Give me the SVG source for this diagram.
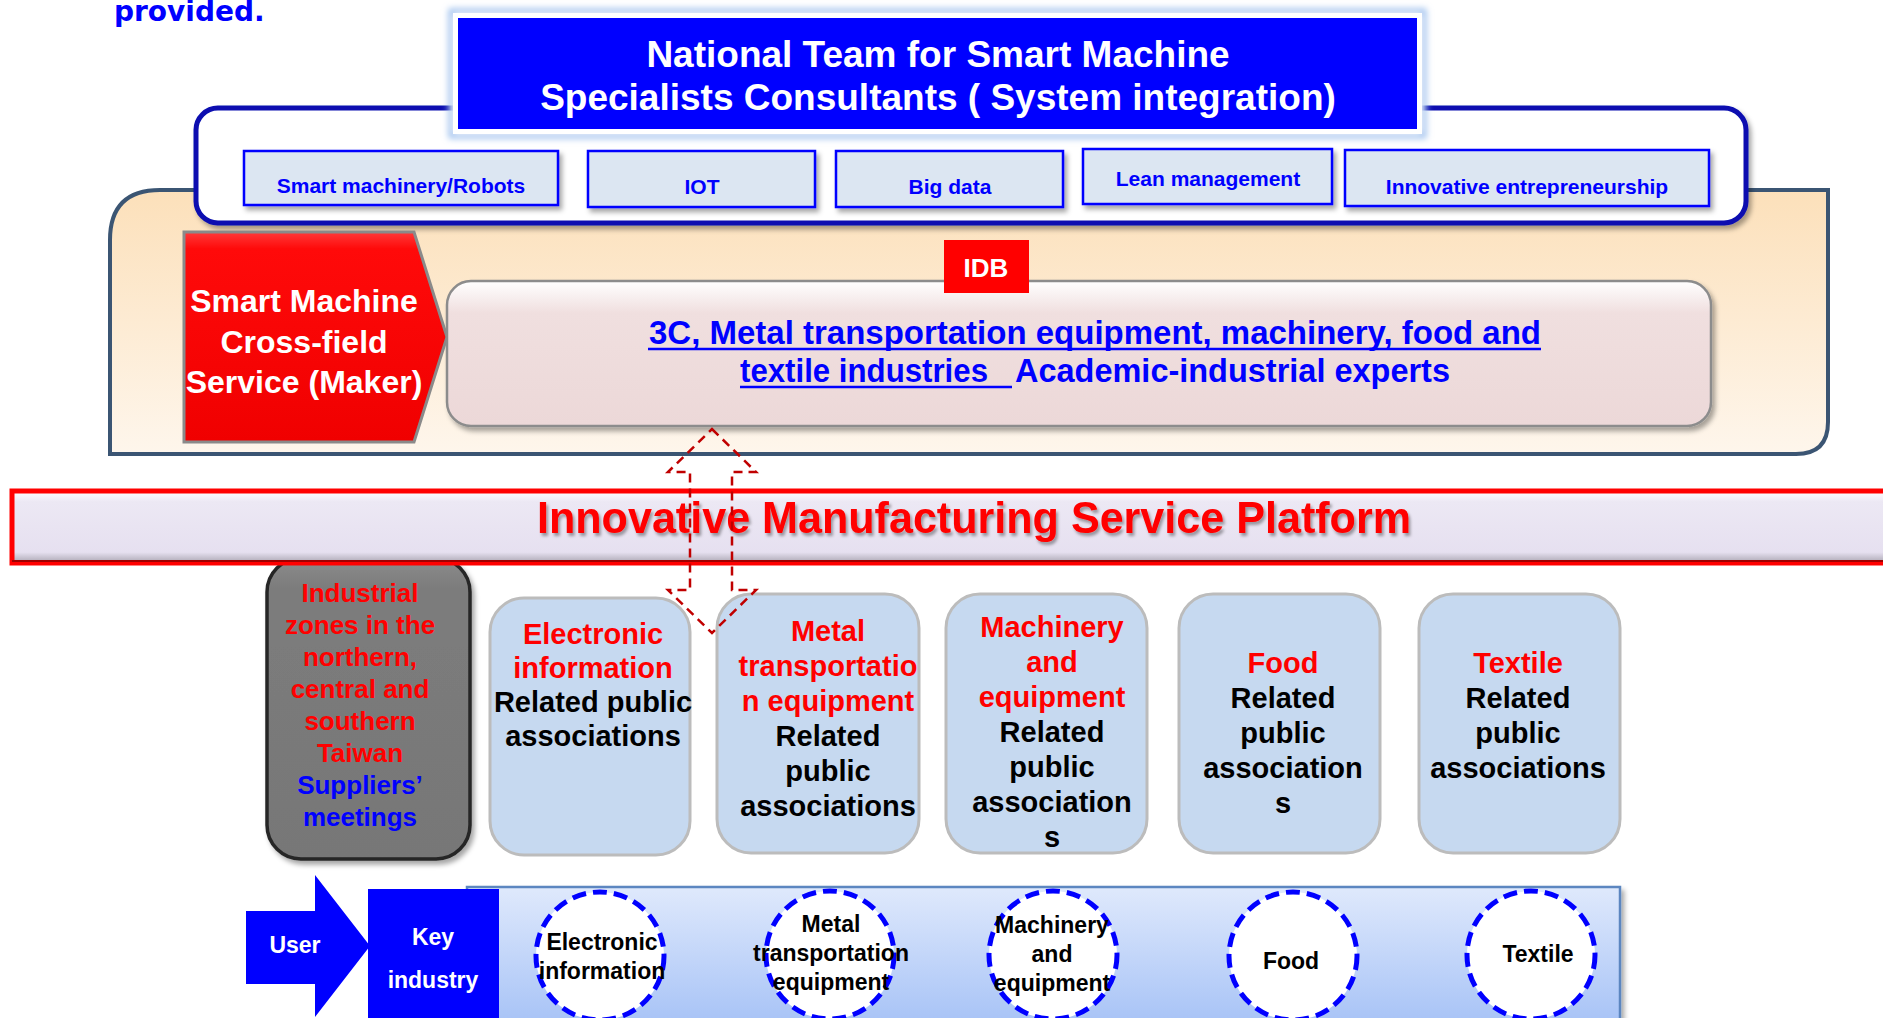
<svg xmlns="http://www.w3.org/2000/svg" width="1883" height="1018" viewBox="0 0 1883 1018">
<defs>
<style>
text{font-family:"Liberation Sans",Arial,sans-serif;font-weight:bold;text-anchor:middle}
.w{fill:#ffffff}
.b{fill:#0000ff}
.r{fill:#ff0000}
.k{fill:#000000}
.tag{fill:#dce6f2;stroke:#0000ff;stroke-width:2.5}
.ind{fill:#c6d9f0;stroke:#bcbcbc;stroke-width:3}
.circ{fill:#ffffff;stroke:#0000ff;stroke-width:5;stroke-dasharray:14 7}
.dash{fill:none;stroke:#c00000;stroke-width:2.5;stroke-dasharray:9 6}
</style>
<filter id="sh" x="-10%" y="-10%" width="130%" height="140%"><feDropShadow dx="3" dy="4" stdDeviation="2.5" flood-color="#000" flood-opacity="0.35"/></filter>
<filter id="glow" x="-5%" y="-20%" width="110%" height="140%"><feGaussianBlur stdDeviation="3"/></filter>
<filter id="tsh" x="-5%" y="-20%" width="110%" height="150%"><feDropShadow dx="2" dy="3" stdDeviation="1.5" flood-color="#000" flood-opacity="0.35"/></filter>
<linearGradient id="beige" x1="0" y1="0" x2="0" y2="1"><stop offset="0" stop-color="#fce0ba"/><stop offset="1" stop-color="#fef6ec"/></linearGradient>
<linearGradient id="pink" x1="0" y1="0" x2="0" y2="1"><stop offset="0" stop-color="#ffffff"/><stop offset="0.22" stop-color="#f0dfdf"/><stop offset="1" stop-color="#ecd8d8"/></linearGradient>
<linearGradient id="lav" x1="0" y1="0" x2="0" y2="1"><stop offset="0" stop-color="#ffffff"/><stop offset="0.15" stop-color="#ece8f4"/><stop offset="0.85" stop-color="#e6e0f0"/><stop offset="1" stop-color="#a9a4b0"/></linearGradient>
<linearGradient id="grey" x1="0" y1="0" x2="0" y2="1"><stop offset="0" stop-color="#8c8c8c"/><stop offset="0.1" stop-color="#7c7c7c"/><stop offset="1" stop-color="#777777"/></linearGradient>
<linearGradient id="strip" x1="0" y1="0" x2="0" y2="1"><stop offset="0" stop-color="#dfe9fc"/><stop offset="1" stop-color="#a6c2f6"/></linearGradient>
<linearGradient id="red" x1="0" y1="0" x2="0" y2="1"><stop offset="0" stop-color="#ff3a3a"/><stop offset="0.08" stop-color="#ff0a0a"/><stop offset="1" stop-color="#f00000"/></linearGradient>
</defs>

<text class="b" x="114" y="21" style="text-anchor:start;font-family:'DejaVu Sans',sans-serif;font-size:28px">provided.</text>

<g id="outer-panel">
<path d="M110,454 L110,240 Q110,190 160,190 L1828,190 L1828,422 Q1828,454 1796,454 Z" fill="url(#beige)" stroke="#3b5573" stroke-width="4"/>
</g>

<g id="expert-panel">
<rect x="196" y="108" width="1550" height="115" rx="22" fill="#ffffff" stroke="#0a0fb0" stroke-width="5" filter="url(#sh)"/>
</g>

<g id="national-team">
<rect x="451" y="11" width="973" height="125" fill="#ffffff" stroke="#9cc0ee" stroke-width="5" filter="url(#glow)"/>
<rect x="453" y="13" width="969" height="121" fill="#ffffff"/>
<rect x="458" y="18" width="959" height="111" fill="#0000ff"/>
<text class="w" x="938" y="67" style="font-size:37px">National Team for Smart Machine</text>
<text class="w" x="938" y="110" style="font-size:37px">Specialists Consultants ( System integration)</text>
</g>

<g id="tag-robots"><rect class="tag" x="244" y="151" width="314" height="54" filter="url(#sh)"/><text class="b" x="401" y="193" style="font-size:21px">Smart machinery/Robots</text></g>
<g id="tag-iot"><rect class="tag" x="588" y="151" width="227" height="56" filter="url(#sh)"/><text class="b" x="702" y="194" style="font-size:21px">IOT</text></g>
<g id="tag-bigdata"><rect class="tag" x="836" y="151" width="227" height="56" filter="url(#sh)"/><text class="b" x="950" y="194" style="font-size:21px">Big data</text></g>
<g id="tag-lean"><rect class="tag" x="1083" y="149" width="249" height="55" filter="url(#sh)"/><text class="b" x="1208" y="186" style="font-size:21px">Lean  management</text></g>
<g id="tag-innov"><rect class="tag" x="1345" y="150" width="364" height="56" filter="url(#sh)"/><text class="b" x="1527" y="194" style="font-size:21px">Innovative entrepreneurship</text></g>

<g id="maker">
<polygon points="184,232 414,232 447,337 414,442 184,442" fill="url(#red)" stroke="#8a8a8a" stroke-width="3"/>
<text class="w" x="304" y="312" style="font-size:32px">Smart Machine</text>
<text class="w" x="304" y="353" style="font-size:32px">Cross-field</text>
<text class="w" x="304" y="393" style="font-size:32px">Service (Maker)</text>
</g>

<g id="experts">
<rect x="447" y="281" width="1264" height="145" rx="24" fill="url(#pink)" stroke="#8c8c8c" stroke-width="2.5" filter="url(#sh)"/>
<text class="b" x="1095" y="344" textLength="892" lengthAdjust="spacingAndGlyphs" style="font-size:33px">3C, Metal transportation equipment, machinery, food and</text>
<line x1="648" y1="349" x2="1541" y2="349" stroke="#0000ff" stroke-width="2.5"/>
<text class="b" x="740" y="382" textLength="248" lengthAdjust="spacingAndGlyphs" style="font-size:33px;text-anchor:start">textile industries</text>
<line x1="740" y1="387" x2="1012" y2="387" stroke="#0000ff" stroke-width="2.5"/>
<text class="b" x="1015" y="382" textLength="435" lengthAdjust="spacingAndGlyphs" style="font-size:33px;text-anchor:start">Academic-industrial experts</text>
</g>

<g id="idb">
<rect x="944" y="240" width="85" height="53" fill="#ff0000"/>
<text class="w" x="986" y="277" style="font-size:26px">IDB</text>
</g>

<g id="zones">
<rect x="267" y="558" width="203" height="301" rx="34" fill="url(#grey)" stroke="#262626" stroke-width="3.5" filter="url(#sh)"/>
<text class="r" x="360" y="602" style="font-size:26px">Industrial</text>
<text class="r" x="360" y="634" style="font-size:26px">zones in the</text>
<text class="r" x="360" y="666" style="font-size:26px">northern,</text>
<text class="r" x="360" y="698" style="font-size:26px">central and</text>
<text class="r" x="360" y="730" style="font-size:26px">southern</text>
<text class="r" x="360" y="762" style="font-size:26px">Taiwan</text>
<text class="b" x="360" y="794" style="font-size:26px">Suppliers’</text>
<text class="b" x="360" y="826" style="font-size:26px">meetings</text>
</g>

<g id="platform">
<rect x="12" y="491" width="1880" height="72" fill="url(#lav)" stroke="#ff0000" stroke-width="5"/>
<line x1="12" y1="561" x2="1892" y2="561" stroke="#a00000" stroke-width="2"/>
<text class="r" x="974" y="533" textLength="874" lengthAdjust="spacingAndGlyphs" filter="url(#tsh)" style="font-size:44px">Innovative Manufacturing Service Platform</text>
</g>

<g id="assoc-electronic">
<rect class="ind" x="490" y="598" width="200" height="257" rx="34"/>
<text class="r" x="593" y="644" style="font-size:29px">Electronic</text>
<text class="r" x="593" y="678" style="font-size:29px">information</text>
<text class="k" x="593" y="712" style="font-size:29px">Related public</text>
<text class="k" x="593" y="746" style="font-size:29px">associations</text>
</g>
<g id="assoc-metal">
<rect class="ind" x="717" y="594" width="202" height="259" rx="34"/>
<text class="r" x="828" y="641" style="font-size:29px">Metal</text>
<text class="r" x="828" y="676" style="font-size:29px">transportatio</text>
<text class="r" x="828" y="711" style="font-size:29px">n equipment</text>
<text class="k" x="828" y="746" style="font-size:29px">Related</text>
<text class="k" x="828" y="781" style="font-size:29px">public</text>
<text class="k" x="828" y="816" style="font-size:29px">associations</text>
</g>
<g id="assoc-machinery">
<rect class="ind" x="946" y="594" width="201" height="259" rx="34"/>
<text class="r" x="1052" y="637" style="font-size:29px">Machinery</text>
<text class="r" x="1052" y="672" style="font-size:29px">and</text>
<text class="r" x="1052" y="707" style="font-size:29px">equipment</text>
<text class="k" x="1052" y="742" style="font-size:29px">Related</text>
<text class="k" x="1052" y="777" style="font-size:29px">public</text>
<text class="k" x="1052" y="812" style="font-size:29px">association</text>
<text class="k" x="1052" y="847" style="font-size:29px">s</text>
</g>
<g id="assoc-food">
<rect class="ind" x="1179" y="594" width="201" height="259" rx="34"/>
<text class="r" x="1283" y="673" style="font-size:29px">Food</text>
<text class="k" x="1283" y="708" style="font-size:29px">Related</text>
<text class="k" x="1283" y="743" style="font-size:29px">public</text>
<text class="k" x="1283" y="778" style="font-size:29px">association</text>
<text class="k" x="1283" y="813" style="font-size:29px">s</text>
</g>
<g id="assoc-textile">
<rect class="ind" x="1419" y="594" width="201" height="259" rx="34"/>
<text class="r" x="1518" y="673" style="font-size:29px">Textile</text>
<text class="k" x="1518" y="708" style="font-size:29px">Related</text>
<text class="k" x="1518" y="743" style="font-size:29px">public</text>
<text class="k" x="1518" y="778" style="font-size:29px">associations</text>
</g>

<g id="connectors">
<polygon class="dash" points="712,429 756,472 732,472 732,590 756,590 712,633 668,590 690,590 690,472 668,472"/>
</g>

<g id="key-strip">
<rect x="467" y="887" width="1153" height="140" fill="url(#strip)" stroke="#5b86c0" stroke-width="2.5" filter="url(#sh)"/>
</g>
<g id="user">
<polygon points="246,911 315,911 315,875 370,946 315,1017 315,984 246,984" fill="#0000ff"/>
<text class="w" x="295" y="953" style="font-size:23px">User</text>
</g>
<g id="key-industry">
<rect x="368" y="889" width="131" height="129" fill="#0000ff"/>
<text class="w" x="433" y="945" style="font-size:23px">Key</text>
<text class="w" x="433" y="988" style="font-size:23px">industry</text>
</g>

<g id="key-electronic">
<ellipse class="circ" cx="600" cy="956" rx="64" ry="64"/>
<text class="k" x="602" y="950" style="font-size:23px">Electronic</text>
<text class="k" x="602" y="979" style="font-size:23px">information</text>
</g>
<g id="key-metal">
<ellipse class="circ" cx="830" cy="955" rx="64" ry="64"/>
<text class="k" x="831" y="932" style="font-size:23px">Metal</text>
<text class="k" x="831" y="961" style="font-size:23px">transportation</text>
<text class="k" x="831" y="990" style="font-size:23px">equipment</text>
</g>
<g id="key-machinery">
<ellipse class="circ" cx="1053" cy="955" rx="64" ry="64"/>
<text class="k" x="1052" y="933" style="font-size:23px">Machinery</text>
<text class="k" x="1052" y="962" style="font-size:23px">and</text>
<text class="k" x="1052" y="991" style="font-size:23px">equipment</text>
</g>
<g id="key-food">
<ellipse class="circ" cx="1293" cy="956" rx="64" ry="64"/>
<text class="k" x="1291" y="969" style="font-size:23px">Food</text>
</g>
<g id="key-textile">
<ellipse class="circ" cx="1531" cy="955" rx="64" ry="64"/>
<text class="k" x="1538" y="962" style="font-size:23px">Textile</text>
</g>
</svg>
